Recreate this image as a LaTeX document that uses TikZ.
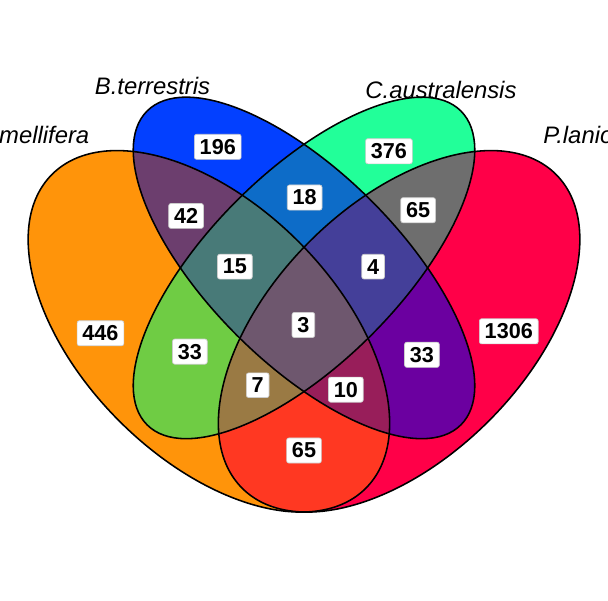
\documentclass[tikz,border=0pt]{standalone}
\usepackage{fontspec}
\setmainfont{Liberation Sans}
\usepackage{tikz}
\usetikzlibrary{positioning}

\definecolor{cA}{RGB}{255,148,10}
\definecolor{cB}{RGB}{3,64,255}
\definecolor{cC}{RGB}{34,255,153}
\definecolor{cD}{RGB}{255,0,72}
\definecolor{cAB}{RGB}{108,62,110}
\definecolor{cAC}{RGB}{111,204,68}
\definecolor{cAD}{RGB}{255,56,34}
\definecolor{cBC}{RGB}{13,108,200}
\definecolor{cBD}{RGB}{107,0,160}
\definecolor{cCD}{RGB}{110,110,110}
\definecolor{cABC}{RGB}{72,122,120}
\definecolor{cABD}{RGB}{152,30,90}
\definecolor{cACD}{RGB}{154,122,68}
\definecolor{cBCD}{RGB}{68,63,153}
\definecolor{cABCD}{RGB}{110,87,110}

% the four sets
\newcommand{\ellA}{[rotate around={-45:(3.5,4.7)}] (3.5,4.7) ellipse [x radius=3.5cm, y radius=2cm]}
\newcommand{\ellB}{[rotate around={-45:(5,5.7)}] (5,5.7) ellipse [x radius=3.5cm, y radius=1.5cm]}
\newcommand{\ellC}{[rotate around={45:(5,5.7)}] (5,5.7) ellipse [x radius=3.5cm, y radius=1.5cm]}
\newcommand{\ellD}{[rotate around={45:(6.5,4.7)}] (6.5,4.7) ellipse [x radius=3.5cm, y radius=2cm]}

\begin{document}
\begin{tikzpicture}[
	vennline/.style={draw=black, line width=0.7pt},
	num/.style={fill=white, draw=black!20, line width=0.3pt, rounded corners=1pt, inner xsep=2.4pt, inner ysep=2.2pt, font=\fontsize{9.7}{11}\selectfont\bfseries},
	setname/.style={anchor=base, inner sep=0pt, font=\fontsize{10.7}{12}\selectfont\itshape}
]
\useasboundingbox (0.205,0.462) rectangle (9.795,9.926);

\fill[cA] \ellA;
\fill[cB] \ellB;
\fill[cC] \ellC;
\fill[cD] \ellD;

% pairs
\begin{scope} \clip \ellA; \fill[cAB] \ellB; \end{scope}
\begin{scope} \clip \ellA; \fill[cAC] \ellC; \end{scope}
\begin{scope} \clip \ellA; \fill[cAD] \ellD; \end{scope}
\begin{scope} \clip \ellB; \fill[cBC] \ellC; \end{scope}
\begin{scope} \clip \ellB; \fill[cBD] \ellD; \end{scope}
\begin{scope} \clip \ellC; \fill[cCD] \ellD; \end{scope}
% triples
\begin{scope} \clip \ellA; \clip \ellB; \fill[cABC] \ellC; \end{scope}
\begin{scope} \clip \ellA; \clip \ellB; \fill[cABD] \ellD; \end{scope}
\begin{scope} \clip \ellA; \clip \ellC; \fill[cACD] \ellD; \end{scope}
\begin{scope} \clip \ellB; \clip \ellC; \fill[cBCD] \ellD; \end{scope}
\begin{scope} \clip \ellA; \clip \ellB; \clip \ellC; \fill[cABCD] \ellD; \end{scope}

\draw[vennline] \ellA;
\draw[vennline] \ellB;
\draw[vennline] \ellC;
\draw[vennline] \ellD;

\node[setname, anchor=base east] (nameA) at (1.62,7.67) {A.mellifera};
\node[setname] (nameB) at (2.61,8.43) {B.terrestris};
\node[setname] (nameC) at (7.16,8.37) {C.australensis};
\node[setname, anchor=base west] (nameD) at (8.77,7.67) {P.lanio};

\node[num] (onlyA) at (1.79,4.67) {446};
\node[num] (onlyB) at (3.64,7.61) {196};
\node[num] (onlyC) at (6.34,7.54) {376};
\node[num] (onlyD) at (8.23,4.70) {1306};
\node[num] (AB) at (3.14,6.52) {42};
\node[num] (AC) at (3.20,4.38) {33};
\node[num] (AD) at (5.00,2.82) {65};
\node[num] (BC) at (5.01,6.81) {18};
\node[num] (BD) at (6.86,4.33) {33};
\node[num] (CD) at (6.80,6.61) {65};
\node[num] (ABC) at (3.91,5.72) {15};
\node[num] (ABD) at (5.66,3.78) {10};
\node[num] (ACD) at (4.27,3.85) {7};
\node[num] (BCD) at (6.09,5.72) {4};
\node[num] (ABCD) at (4.99,4.80) {3};
\end{tikzpicture}
\end{document}
